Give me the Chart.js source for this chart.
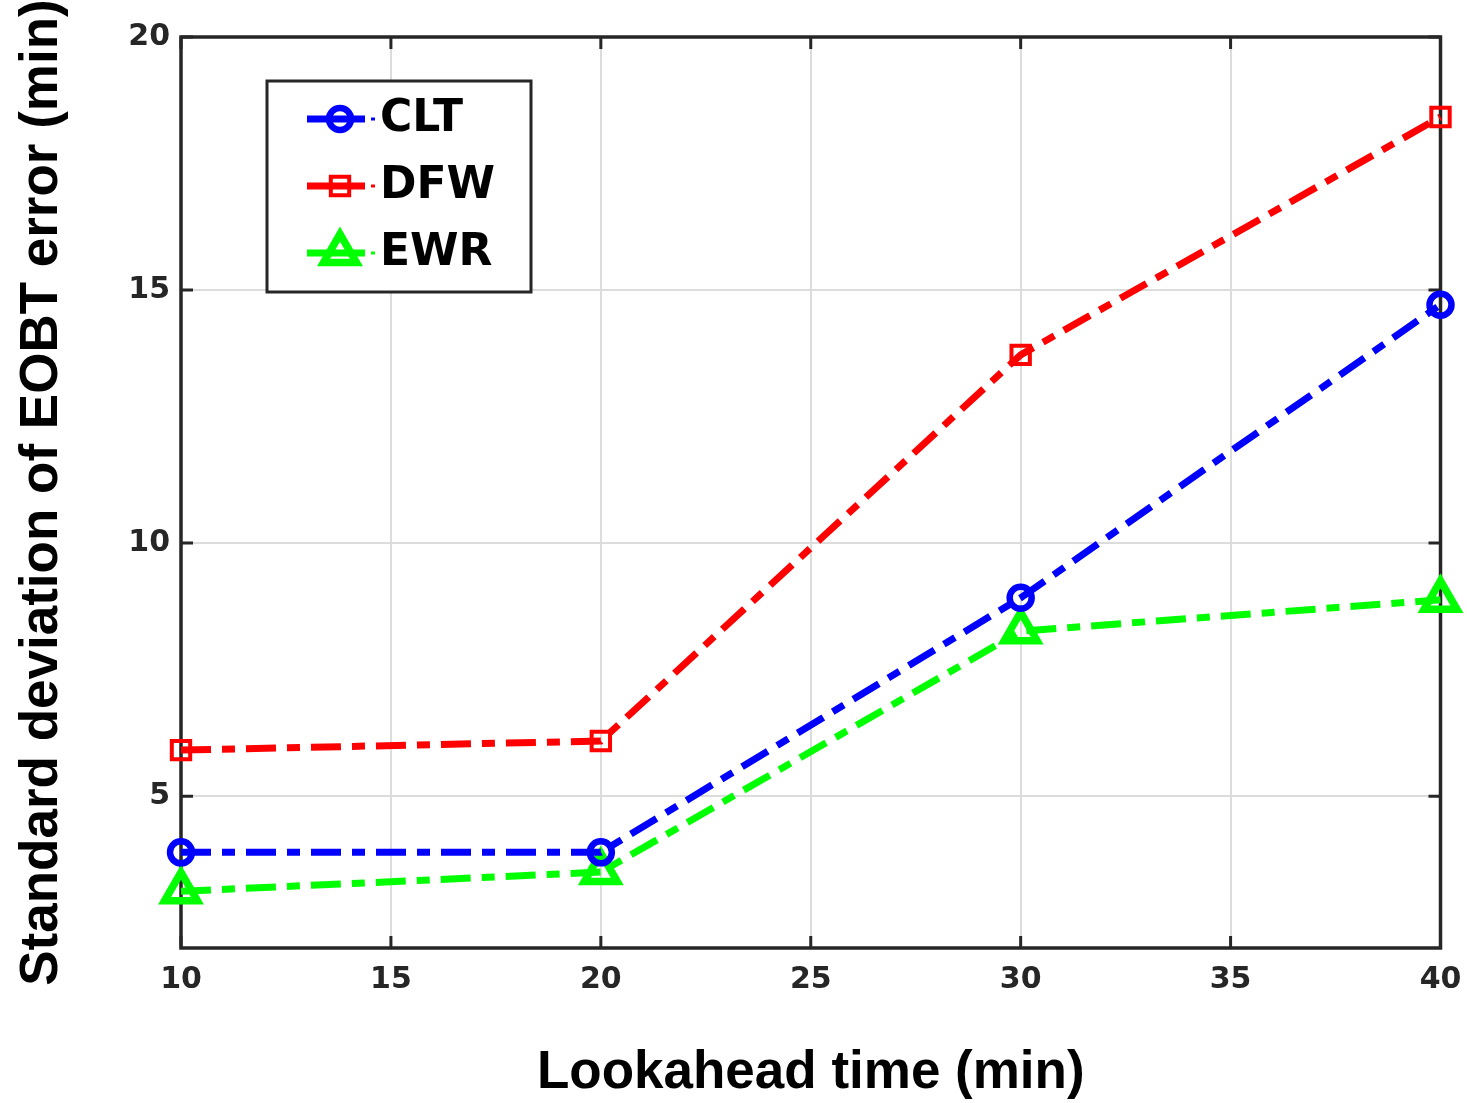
<!DOCTYPE html>
<html><head><meta charset="utf-8">
<script src="https://cdn.jsdelivr.net/npm/chart.js@4.4.1/dist/chart.umd.min.js"></script>
<style>html,body{margin:0;padding:0;background:#fff}canvas{display:block}</style>
</head><body>
<canvas id="c" width="1467" height="1103"></canvas>
<script>
const lookahead = [10, 20, 30, 40];
const cltValues = [3.89, 3.89, 8.92, 14.71];
const dfwValues = [5.91, 6.09, 13.72, 18.42];
const ewrValues = [3.12, 3.5, 8.26, 8.88];
const xTickValues = [10, 15, 20, 25, 30, 35, 40];
const yTickValues = [5, 10, 15, 20];
const seriesNames = ['CLT', 'DFW', 'EWR'];
const xTitle = 'Lookahead time (min)';
const yTitle = 'Standard deviation of EOBT error (min)';

const colors = ['#0000ff', '#ff0000', '#00ff00'];
const styles = [
  {pointStyle: 'circle', radius: 11, bw: 6.5},
  {pointStyle: 'rect', radius: 13, bw: 4},
  {pointStyle: 'triangle', radius: 19, bw: 7.5}
];
const seriesValues = [cltValues, dfwValues, ewrValues];
const AXIS = '#262626';

function drawMarker(ctx, style, x, y) {
  const r = style.radius;
  ctx.beginPath();
  if (style.pointStyle === 'circle') {
    ctx.arc(x, y, r, 0, Math.PI * 2);
  } else if (style.pointStyle === 'rect') {
    const s = Math.SQRT1_2 * r;
    ctx.rect(x - s, y - s, 2 * s, 2 * s);
  } else {
    ctx.moveTo(x, y - r);
    ctx.lineTo(x + r * Math.sin(2 * Math.PI / 3), y - r * Math.cos(2 * Math.PI / 3));
    ctx.lineTo(x + r * Math.sin(4 * Math.PI / 3), y - r * Math.cos(4 * Math.PI / 3));
    ctx.closePath();
  }
  ctx.stroke();
}

const framePlugin = {
  id: 'frame',
  beforeDatasetsDraw(chart) {
    const {ctx, chartArea: a, scales: {x, y}} = chart;
    ctx.save();
    ctx.strokeStyle = AXIS;
    ctx.lineWidth = 3.5;
    ctx.strokeRect(a.left, a.top, a.right - a.left, a.bottom - a.top);
    const L = 12;
    ctx.beginPath();
    xTickValues.forEach(v => {
      const px = x.getPixelForValue(v);
      ctx.moveTo(px, a.bottom); ctx.lineTo(px, a.bottom - L);
      ctx.moveTo(px, a.top); ctx.lineTo(px, a.top + L);
    });
    yTickValues.forEach(v => {
      const py = y.getPixelForValue(v);
      ctx.moveTo(a.left, py); ctx.lineTo(a.left + L, py);
      ctx.moveTo(a.right, py); ctx.lineTo(a.right - L, py);
    });
    ctx.lineWidth = 3;
    ctx.stroke();
    ctx.restore();
  }
};

const legendPlugin = {
  id: 'boxLegend',
  afterDatasetsDraw(chart) {
    const ctx = chart.ctx;
    const bx = 267, by = 81, bw = 264, bh = 211;
    ctx.save();
    ctx.fillStyle = '#ffffff';
    ctx.fillRect(bx, by, bw, bh);
    ctx.strokeStyle = AXIS;
    ctx.lineWidth = 3;
    ctx.strokeRect(bx, by, bw, bh);
    seriesNames.forEach((name, i) => {
      const cy = 119 + i * 67;
      ctx.strokeStyle = colors[i];
      ctx.lineWidth = 7;
      ctx.setLineDash([]);
      ctx.beginPath();
      ctx.moveTo(307, cy); ctx.lineTo(365, cy);
      ctx.stroke();
      ctx.lineWidth = 3;
      ctx.beginPath();
      ctx.moveTo(371, cy); ctx.lineTo(375, cy);
      ctx.stroke();
      ctx.lineWidth = styles[i].bw;
      drawMarker(ctx, styles[i], 340, cy);
      ctx.fillStyle = '#000000';
      ctx.font = 'bold 44px "DejaVu Sans"';
      ctx.textBaseline = 'middle';
      ctx.textAlign = 'left';
      ctx.fillText(name, 380, cy + 1);
    });
    ctx.restore();
  }
};

const datasets = seriesNames.map((name, i) => ({
  label: name,
  data: lookahead.map((xv, j) => ({x: xv, y: seriesValues[i][j]})),
  borderColor: colors[i],
  backgroundColor: 'rgba(0,0,0,0)',
  borderWidth: 7,
  borderDash: [30, 11, 13, 11],
  pointStyle: styles[i].pointStyle,
  pointRadius: styles[i].radius,
  pointHoverRadius: styles[i].radius,
  pointBorderWidth: styles[i].bw,
  pointBorderColor: colors[i],
  pointBackgroundColor: 'rgba(0,0,0,0)',
  tension: 0,
  fill: false,
  clip: false
}));

new Chart(document.getElementById('c'), {
  type: 'line',
  data: {datasets},
  plugins: [framePlugin, legendPlugin],
  options: {
    responsive: false,
    animation: false,
    events: [],
    layout: {padding: {left: 0, right: 25, top: 37, bottom: 0}},
    plugins: {legend: {display: false}, tooltip: {enabled: false}},
    scales: {
      x: {
        type: 'linear',
        min: 10, max: 40,
        afterBuildTicks: s => { s.ticks = xTickValues.map(v => ({value: v})); },
        afterFit: s => { s.height = 155; s.paddingLeft = 0; s.paddingRight = 0; },
        grid: {color: '#dcdcdc', lineWidth: 2, drawTicks: false},
        border: {display: false},
        ticks: {
          color: AXIS, padding: 14, maxRotation: 0, autoSkip: false,
          font: {family: '"DejaVu Sans"', size: 30, weight: 'bold'}
        },
        title: {
          display: true, text: xTitle, color: '#000000',
          padding: {top: 0, bottom: 0},
          font: {family: '"Liberation Sans", Arial, sans-serif', size: 53, weight: 'bold', lineHeight: 1.1}
        }
      },
      y: {
        type: 'linear',
        min: 2, max: 20,
        afterBuildTicks: s => { s.ticks = yTickValues.map(v => ({value: v})); },
        afterFit: s => { s.width = 181; s.paddingTop = 0; s.paddingBottom = 0; },
        grid: {color: '#dcdcdc', lineWidth: 2, drawTicks: false},
        border: {display: false},
        ticks: {
          color: AXIS, padding: 11, autoSkip: false,
          font: {family: '"DejaVu Sans"', size: 30, weight: 'bold'}
        },
        title: {
          display: true, text: yTitle, color: '#000000',
          padding: {top: 11, bottom: 0},
          font: {family: '"Liberation Sans", Arial, sans-serif', size: 53, weight: 'bold', lineHeight: 1.2}
        }
      }
    }
  }
});
</script>
</body></html>
